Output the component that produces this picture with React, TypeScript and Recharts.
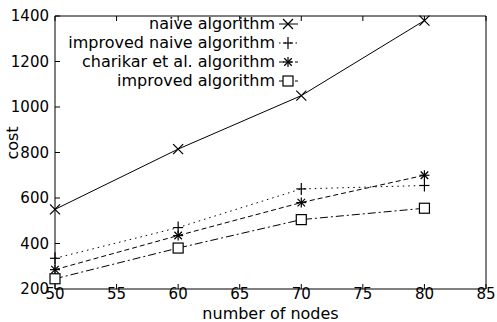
import React from 'react';
import { LineChart, Line, XAxis, YAxis, Legend, Label } from 'recharts';

// values
const nodes = [50, 60, 70, 80];
const naive = [550, 815, 1050, 1380];
const improvedNaive = [335, 470, 640, 655];
const charikar = [285, 435, 580, 700];
const improved = [245, 380, 505, 555];

const xTicks = [50, 55, 60, 65, 70, 75, 80, 85];
const yTicks = [200, 400, 600, 800, 1000, 1200, 1400];

const data = nodes.map((n, i) => ({
  nodes: n,
  naive: naive[i],
  improvedNaive: improvedNaive[i],
  charikar: charikar[i],
  improved: improved[i],
}));

const FONT = 'DejaVu Sans, Liberation Sans, sans-serif';

type MarkerKind = 'x' | 'plus' | 'star' | 'square';

const series: { key: string; name: string; dash?: string; marker: MarkerKind }[] = [
  { key: 'naive', name: 'naive algorithm', marker: 'x' },
  { key: 'improvedNaive', name: 'improved naive algorithm', dash: '1.5 4', marker: 'plus' },
  { key: 'charikar', name: 'charikar et al. algorithm', dash: '5 3', marker: 'star' },
  { key: 'improved', name: 'improved algorithm', dash: '8 3 2 3', marker: 'square' },
];

const Marker = ({ cx, cy, kind }: { cx: number; cy: number; kind: MarkerKind }) => {
  const s = 5;
  const p = { stroke: '#000', strokeWidth: 1.2, fill: 'none' };
  if (kind === 'x')
    return (
      <g {...p}>
        <line x1={cx - s} y1={cy - s} x2={cx + s} y2={cy + s} />
        <line x1={cx - s} y1={cy + s} x2={cx + s} y2={cy - s} />
      </g>
    );
  if (kind === 'plus')
    return (
      <g {...p}>
        <line x1={cx - s} y1={cy} x2={cx + s} y2={cy} />
        <line x1={cx} y1={cy - s - 1} x2={cx} y2={cy + s + 1} />
      </g>
    );
  if (kind === 'star')
    return (
      <g {...p}>
        <line x1={cx - s} y1={cy} x2={cx + s} y2={cy} />
        <line x1={cx} y1={cy - s} x2={cx} y2={cy + s} />
        <line x1={cx - s * 0.75} y1={cy - s * 0.75} x2={cx + s * 0.75} y2={cy + s * 0.75} />
        <line x1={cx - s * 0.75} y1={cy + s * 0.75} x2={cx + s * 0.75} y2={cy - s * 0.75} />
      </g>
    );
  return <rect x={cx - s} y={cy - s} width={2 * s} height={2 * s} fill="#fff" stroke="#000" strokeWidth={1.2} />;
};

const makeDot = (kind: MarkerKind) => (props: any) => {
  const { cx, cy, index } = props;
  if (cx == null || cy == null) return <g key={index} />;
  return <Marker key={index} cx={cx} cy={cy} kind={kind} />;
};

const BottomTick = ({ x, y, payload }: any) => (
  <g>
    <line x1={x} x2={x} y1={y} y2={y - 5} stroke="#000" />
    <text x={x} y={y + 10} textAnchor="middle" fontSize={15} fontFamily={FONT} fill="#000">
      {payload.value}
    </text>
  </g>
);
const TopTick = ({ x, y }: any) => <line x1={x} x2={x} y1={y} y2={y + 5} stroke="#000" />;
const LeftTick = ({ x, y, payload }: any) => (
  <g>
    <line x1={x} x2={x + 5} y1={y} y2={y} stroke="#000" />
    <text x={x - 6} y={y + 5} textAnchor="end" fontSize={15} fontFamily={FONT} fill="#000">
      {payload.value}
    </text>
  </g>
);
const RightTick = ({ x, y }: any) => <line x1={x} x2={x - 5} y1={y} y2={y} stroke="#000" />;

const CostLabel = () => (
  <text
    x={18}
    y={143}
    transform="rotate(-90 18 143)"
    textAnchor="middle"
    fontSize={16}
    fontFamily={FONT}
    fill="#000"
  >
    cost
  </text>
);

const LegendBox = () => (
  <svg width={250} height={80}>
    {series.map((s, i) => {
      const cy = 10 + i * 19;
      return (
        <g key={s.key}>
          <text x={220} y={cy + 5} textAnchor="end" fontSize={16} fontFamily={FONT} fill="#000">
            {s.name}
          </text>
          <line x1={224} x2={243} y1={cy} y2={cy} stroke="#000" strokeDasharray={s.dash} />
          <Marker cx={233} cy={cy} kind={s.marker} />
        </g>
      );
    })}
  </svg>
);

export default function App() {
  return (
    <div style={{ position: 'absolute', left: 0, top: 0, width: 497, height: 322, background: '#fff' }}>
      <LineChart width={497} height={322} data={data} margin={{ top: 15, right: 10, bottom: 0, left: 0 }}>
        <XAxis
          xAxisId="b"
          type="number"
          dataKey="nodes"
          domain={[50, 85]}
          ticks={xTicks}
          height={33}
          tickSize={0}
          tickMargin={0}
          tick={<BottomTick />}
          stroke="#000"
        >
          <Label value="number of nodes" position="insideBottom" offset={3} fontSize={16} fontFamily={FONT} fill="#000" />
        </XAxis>
        <XAxis
          xAxisId="t"
          orientation="top"
          type="number"
          dataKey="nodes"
          domain={[50, 85]}
          ticks={xTicks}
          height={1}
          tickSize={0}
          tickMargin={0}
          tick={<TopTick />}
          stroke="#000"
        />
        <YAxis
          yAxisId="l"
          type="number"
          domain={[200, 1400]}
          ticks={yTicks}
          width={55}
          tickSize={0}
          tickMargin={0}
          tick={<LeftTick />}
          stroke="#000"
        >
          <Label content={<CostLabel />} />
        </YAxis>
        <YAxis
          yAxisId="r"
          orientation="right"
          type="number"
          domain={[200, 1400]}
          ticks={yTicks}
          width={1}
          tickSize={0}
          tickMargin={0}
          tick={<RightTick />}
          stroke="#000"
        />
        <Legend
          layout="vertical"
          align="center"
          verticalAlign="middle"
          content={<LegendBox />}
          wrapperStyle={{ top: 14, left: 55, width: 250, height: 80 }}
        />
        {series.map((s) => (
          <Line
            key={s.key}
            xAxisId="b"
            yAxisId="l"
            dataKey={s.key}
            name={s.name}
            type="linear"
            stroke="#000"
            strokeWidth={1}
            strokeDasharray={s.dash}
            dot={makeDot(s.marker)}
            activeDot={false}
            isAnimationActive={false}
          />
        ))}
      </LineChart>
    </div>
  );
}
